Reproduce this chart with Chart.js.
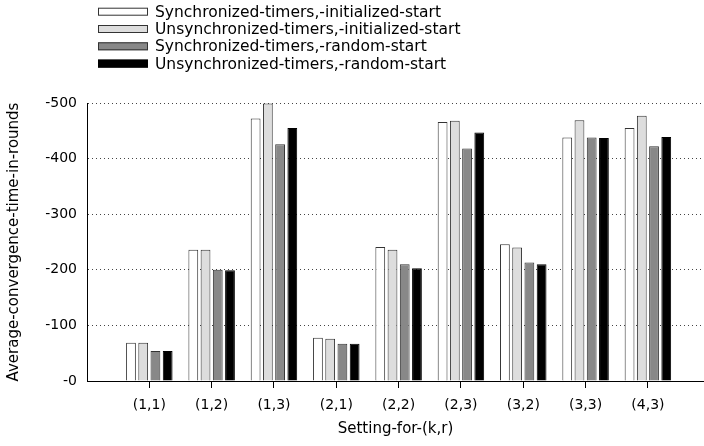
<!DOCTYPE html>
<html>
<head>
<meta charset="utf-8">
<script src="https://cdn.jsdelivr.net/npm/chart.js@4.4.1/dist/chart.umd.min.js"></script>
<style>
  html, body { margin: 0; padding: 0; background: #fff; }
</style>
</head>
<body>
<canvas id="myChart" width="704" height="446"></canvas>
<script>
var categories = ['(1,1)', '(1,2)', '(1,3)', '(2,1)', '(2,2)', '(2,3)', '(3,2)', '(3,3)', '(4,3)'];
var seriesNames = [
    'Synchronized-timers,-initialized-start',
    'Unsynchronized-timers,-initialized-start',
    'Synchronized-timers,-random-start',
    'Unsynchronized-timers,-random-start'
];
var sync_init = [69, 236, 472, 78, 241, 466, 246, 438, 455];
var unsync_init = [69, 236, 499, 76, 236, 468, 240, 469, 477];
var sync_random = [54, 200, 426, 67, 210, 418, 213, 438, 422];
var unsync_random = [54, 199, 455, 67, 203, 447, 210, 437, 439];
var yTicks = [0, 100, 200, 300, 400, 500];

var FONT = 'DejaVu Sans, Liberation Sans, sans-serif';
var fills = ['#ffffff', '#dddddd', '#888888', '#000000'];
var borders = ['#333333', '#333333', '#333333', '#000000'];

function points(list) {
    return list.map(function(v, i) { return { x: i, y: v }; });
}

// legend stacked in one column above the plot, like the gnuplot key
var keyPlugin = {
    id: 'key',
    afterDraw: function(chart) {
        var c = chart.ctx;
        c.save();
        c.font = '15.5px ' + FONT;
        c.textBaseline = 'middle';
        c.textAlign = 'left';
        chart.data.datasets.forEach(function(ds, i) {
            var y = 11.7 + i * 17.3;
            c.fillStyle = ds.backgroundColor;
            c.fillRect(98, y - 4, 50, 8);
            c.strokeStyle = ds.borderColor;
            c.lineWidth = 1;
            c.strokeRect(98.5, y - 3.5, 49, 7);
            c.fillStyle = '#000';
            c.fillText(ds.label, 155, y + 1);
        });
        c.restore();
    }
};

var ctx = document.getElementById('myChart');
var myChart = new Chart(ctx, {
    type: 'bar',
    data: {
        datasets: [sync_init, unsync_init, sync_random, unsync_random].map(function(list, i) {
            return {
                label: seriesNames[i],
                data: points(list),
                backgroundColor: fills[i],
                borderColor: borders[i],
                borderWidth: 1,
                categoryPercentage: 0.785,
                barPercentage: 0.8
            };
        })
    },
    options: {
        responsive: false,
        animation: false,
        devicePixelRatio: 1,
        layout: { padding: { top: 103, right: 0, left: 0, bottom: 0 } },
        plugins: {
            legend: { display: false },
            tooltip: { enabled: false }
        },
        scales: {
            x: {
                type: 'linear',
                offset: false,
                min: -1,
                max: 8.9,
                afterBuildTicks: function(s) {
                    s.ticks = categories.map(function(c, i) { return { value: i }; });
                },
                afterFit: function(s) { s.height = 65; },
                ticks: {
                    autoSkip: false,
                    maxRotation: 0,
                    padding: 9,
                    color: '#000',
                    font: { family: FONT, size: 14 },
                    callback: function(v) { return categories[v]; }
                },
                grid: { offset: false, drawOnChartArea: false, drawTicks: true, tickLength: 7, color: '#000' },
                border: { color: '#000', width: 1 },
                title: {
                    display: true,
                    text: 'Setting-for-(k,r)',
                    color: '#000',
                    font: { family: FONT, size: 15 },
                    padding: { top: 0, bottom: 8 }
                }
            },
            y: {
                min: 0,
                max: 500,
                afterBuildTicks: function(s) {
                    s.ticks = yTicks.map(function(v) { return { value: v }; });
                },
                afterFit: function(s) { s.width = 87; },
                ticks: {
                    padding: 10,
                    color: '#000',
                    font: { family: FONT, size: 14 },
                    callback: function(v) { return '-' + v; }
                },
                grid: { drawTicks: false, color: '#444', lineWidth: 1 },
                border: { color: '#000', width: 1, dash: [1, 3] },
                title: {
                    display: true,
                    text: 'Average-convergence-time-in-rounds',
                    color: '#000',
                    font: { family: FONT, size: 15 },
                    padding: { top: 5, bottom: 0 }
                }
            }
        }
    },
    plugins: [keyPlugin]
});
</script>
</body>
</html>
